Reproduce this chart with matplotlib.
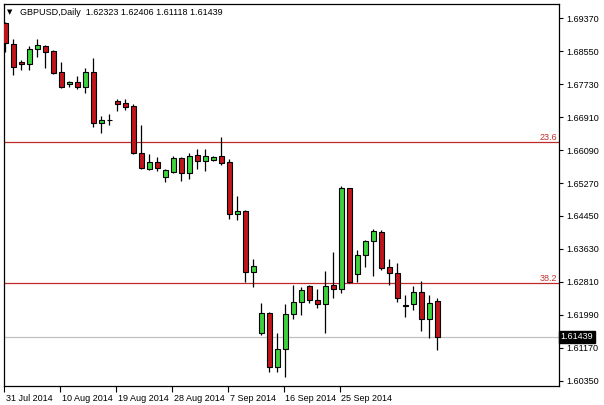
import matplotlib
matplotlib.use("Agg")
import matplotlib.pyplot as plt
from matplotlib.patches import Rectangle

plt.rcParams['font.family'] = ['Liberation Sans', 'DejaVu Sans']

# ---- data (GBPUSD daily) ----
opens = [1.69252, 1.68729, 1.68289, 1.68224, 1.68597, 1.68687, 1.68555, 1.68025, 1.67733, 1.67783,
         1.67651, 1.68032, 1.66755, 1.66830, 1.67310, 1.67268, 1.67193, 1.66008, 1.65624, 1.65799,
         1.65410, 1.65550, 1.65891, 1.65510, 1.65958, 1.65809, 1.65849, 1.65941, 1.65799, 1.64489,
         1.64571, 1.63045, 1.61533, 1.62024, 1.60694, 1.61127, 1.61999, 1.62313, 1.62696, 1.62348,
         1.62248, 1.62721, 1.62621, 1.65136, 1.62995, 1.63468, 1.63824, 1.64056, 1.63169, 1.63020,
         1.62231, 1.62248, 1.62547, 1.61874, 1.62323]
highs = [1.69277, 1.68846, 1.68331, 1.68680, 1.68846, 1.68705, 1.68580, 1.68274, 1.67816, 1.67933,
         1.68124, 1.68373, 1.66937, 1.66999, 1.67352, 1.67352, 1.67235, 1.66713, 1.65983, 1.65923,
         1.65617, 1.65941, 1.65923, 1.66023, 1.66107, 1.66107, 1.65948, 1.66421, 1.65858, 1.64945,
         1.64604, 1.63376, 1.62273, 1.62064, 1.61526, 1.62248, 1.62729, 1.62686, 1.62729, 1.62629,
         1.63077, 1.63558, 1.65194, 1.65144, 1.63600, 1.63849, 1.64115, 1.64098, 1.63376, 1.63269,
         1.62480, 1.62704, 1.62828, 1.62480, 1.62406]
lows = [1.68530, 1.67958, 1.68082, 1.68082, 1.68413, 1.68124, 1.67982, 1.67626, 1.67651, 1.67601,
        1.67517, 1.66655, 1.66521, 1.66713, 1.67069, 1.67086, 1.66003, 1.65617, 1.65592, 1.65567,
        1.65301, 1.65525, 1.65326, 1.65375, 1.65624, 1.65575, 1.65824, 1.65724, 1.64379, 1.64347,
        1.62803, 1.62686, 1.61491, 1.60570, 1.60555, 1.60445, 1.61874, 1.61982, 1.62273, 1.62148,
        1.61526, 1.62397, 1.62522, 1.62771, 1.62811, 1.63184, 1.62953, 1.63102, 1.62729, 1.62313,
        1.61939, 1.62106, 1.61583, 1.61416, 1.61118]
closes = [1.68754, 1.68149, 1.68224, 1.68597, 1.68705, 1.68523, 1.68015, 1.67666, 1.67783, 1.67651,
          1.68032, 1.66755, 1.66837, 1.66842, 1.67243, 1.67168, 1.66008, 1.65634, 1.65784, 1.65649,
          1.65592, 1.65891, 1.65510, 1.65941, 1.65809, 1.65941, 1.65908, 1.65774, 1.64489, 1.64571,
          1.63045, 1.63194, 1.62024, 1.60694, 1.61127, 1.61999, 1.62313, 1.62597, 1.62355, 1.62248,
          1.62711, 1.62621, 1.65136, 1.62811, 1.63468, 1.63824, 1.64073, 1.63159, 1.63020, 1.62412,
          1.62218, 1.62547, 1.61874, 1.62273, 1.61439]

date_labels = ["31 Jul 2014", "10 Aug 2014", "19 Aug 2014", "28 Aug 2014",
               "7 Sep 2014", "16 Sep 2014", "25 Sep 2014"]
date_step = 7  # bars between date labels

price_ticks = [1.69370, 1.68550, 1.67730, 1.66910, 1.66090, 1.65270, 1.64450,
               1.63630, 1.62810, 1.61990, 1.61170, 1.60350]

fib_levels = [1.66284, 1.62790]
fib_labels = ["23.6", "38.2"]

symbol = "GBPUSD,Daily"
last_bar = [1.62323, 1.62406, 1.61118, 1.61439]

# ---- figure ----
W, H = 604, 405
fig = plt.figure(figsize=(W / 100, H / 100), dpi=100)
fig.patch.set_facecolor("white")
ax = fig.add_axes([4 / W, (H - 385.7) / H, (559 - 4) / W, (385.7 - 4) / H])
ax.set_facecolor("white")
for s in ax.spines.values():
    s.set_color("black")
    s.set_linewidth(0.9)

ax.set_xlim(-0.125, 69.25)
ax.set_ylim(1.60226, 1.69726)

RED = "#c0161b"
GREEN = "#3dd13d"
LINE_RED = "#c02a2a"
body_w = 0.62

n = len(opens)
for i in range(n):
    o, h, l, c = opens[i], highs[i], lows[i], closes[i]
    ax.plot([i, i], [l, h], color="black", lw=0.9, zorder=2, solid_capstyle="butt")
    lo, hi = min(o, c), max(o, c)
    col = GREEN if c >= o else RED
    if hi - lo < 0.00012:
        ax.plot([i - body_w / 2, i + body_w / 2], [o, o], color="black", lw=0.9, zorder=3)
    else:
        ax.add_patch(Rectangle((i - body_w / 2, lo), body_w, hi - lo,
                               facecolor=col, edgecolor="black", lw=0.8, zorder=3))

# fib lines
for lvl, lab in zip(fib_levels, fib_labels):
    ax.axhline(lvl, color=LINE_RED, lw=0.9, zorder=1)
    ax.text(0.997, lvl, lab, transform=ax.get_yaxis_transform(), ha="right", va="bottom",
            fontsize=6.5, color="#c03030")

# last price line
ax.axhline(closes[-1], color="#c0c0c0", lw=0.9, zorder=1)

# right axis
ax.yaxis.tick_right()
ax.set_yticks(price_ticks)
ax.set_yticklabels([f"{v:.5f}" for v in price_ticks])
ax.tick_params(axis="y", direction="out", length=3, width=0.8, pad=2,
               labelsize=6.5, colors="black")

# last price label box
ax.text(1.003, closes[-1], f"{closes[-1]:.5f}", transform=ax.get_yaxis_transform(),
        ha="left", va="center", fontsize=6.5, color="white", zorder=10,
        bbox=dict(boxstyle="square,pad=0.15", facecolor="black", edgecolor="black"),
        clip_on=False)

# bottom date axis
tick_pos = [k * date_step - 0.15 for k in range(len(date_labels))]
ax.set_xticks(tick_pos)
ax.set_xticklabels([])
ax.tick_params(axis="x", direction="out", length=4, width=0.8)
for p, lab in zip(tick_pos, date_labels):
    ax.text(p + 0.2, -0.022, lab, transform=ax.get_xaxis_transform(), ha="left", va="top",
            fontsize=6.5, color="black", clip_on=False)

# header
ax.text(0.006, 0.978, "\u25BC", transform=ax.transAxes, ha="left", va="center",
        fontsize=5, color="black", family=["DejaVu Sans"])
ax.text(0.028, 0.978, f"{symbol}  " + " ".join(f"{v:.5f}" for v in last_bar),
        transform=ax.transAxes, ha="left", va="center", fontsize=6.5, color="black")

fig.savefig("out.png", dpi=100, facecolor="white")
